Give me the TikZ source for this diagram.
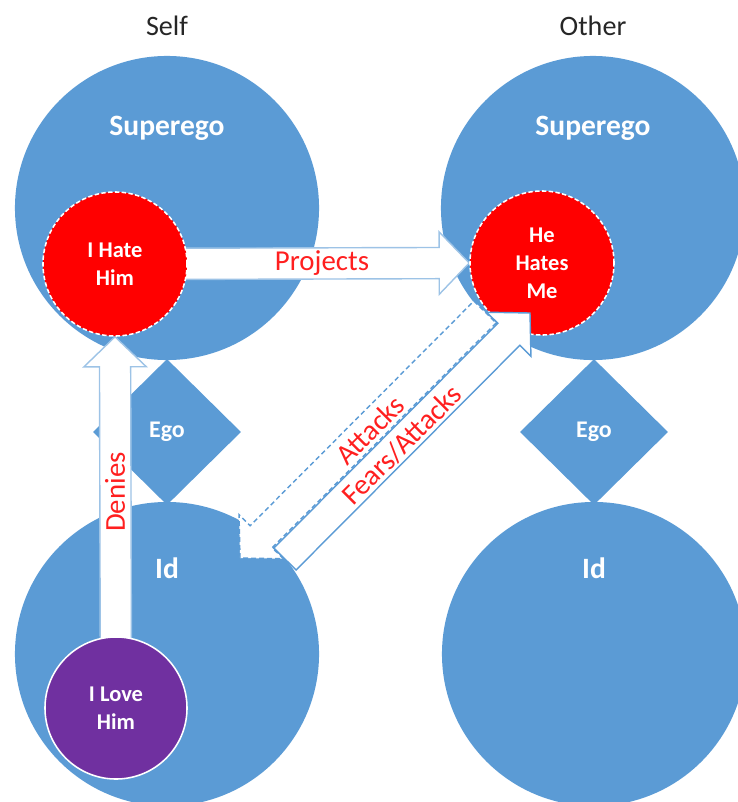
\documentclass[tikz,border=0pt]{standalone}
\usepackage{fontspec}
\setmainfont{Carlito}
\usetikzlibrary{calc,shapes.geometric}

\definecolor{egoblue}{HTML}{5B9BD5}
\definecolor{edgeblue}{HTML}{9DC3E6}
\definecolor{hatered}{HTML}{FF0000}
\definecolor{lovepurple}{HTML}{7030A0}
\definecolor{wordred}{HTML}{FF1F1F}
\definecolor{titlegray}{HTML}{262626}

\pgfdeclarelayer{bg}
\pgfsetlayers{bg,main}

% block arrow from tail (#2) to tip (#3)
\newcommand{\blockarrow}[3][]{%
  \coordinate (ba neck) at ($(#3)!0.75cm!(#2)$);
  \draw[#1] ($(#2)!0.39cm!90:(#3)$) -- ($(ba neck)!0.39cm!-90:(#2)$)
    -- ($(ba neck)!0.78cm!-90:(#2)$) -- (#3)
    -- ($(ba neck)!0.78cm!90:(#2)$) -- ($(ba neck)!0.39cm!90:(#2)$)
    -- ($(#2)!0.39cm!-90:(#3)$) -- cycle;}

\begin{document}
\begin{tikzpicture}[
x=0.025cm, y=-0.025cm,
lobe/.style={circle, fill=egoblue, minimum size=7.6cm, inner sep=0},
egobox/.style={diamond, fill=egoblue, minimum width=3.7cm, minimum height=3.65cm,
  inner sep=0, text=white, font=\bfseries\fontsize{17}{20}\selectfont},
lobetext/.style={anchor=base, text=white, font=\bfseries\fontsize{21}{25}\selectfont},
title/.style={anchor=base, text=titlegray, font=\fontsize{20}{24}\selectfont},
hatebubble/.style={circle, fill=hatered, draw=white, line width=1.1pt,
  dash pattern=on 0.11cm off 0.06cm, minimum size=3.6cm, inner sep=0,
  align=center, text=white, font=\bfseries\fontsize{16}{20}\selectfont},
lovebubble/.style={hatebubble, fill=lovepurple, solid, minimum size=3.55cm},
wordlabel/.style={text=wordred, font=\fontsize{20.5}{24}\selectfont},
plainarrow/.style={fill=white, draw=edgeblue, line width=1pt},
fearsarrow/.style={fill=white, draw=egoblue, line width=1pt},
attackarrow/.style={fearsarrow, dash pattern=on 0.12cm off 0.08cm}]
\useasboundingbox (0,0) rectangle (737,802);
\clip (0,0) rectangle (737,802);
% Inner feelings
\node[hatebubble] (hate) at (115,264) {I Hate\\Him};
\node[hatebubble] (he) at (542,263) {He\\Hates\\Me};
\node[lovebubble] (love) at (116,708) {I Love\\Him};
\begin{pgfonlayer}{bg}
% Self and Other
\node[lobe] (supL) at (167,208) {};
\node[lobe] (supR) at (593,208) {};
\node[lobe] (idL) at (167,654) {};
\node[lobe] (idR) at (594,654) {};
\node[egobox] (egoL) at (167,432) {Ego};
\node[egobox] (egoR) at (594,432) {Ego};
\node[lobetext] at (167,135) {Superego};
\node[lobetext] at (593,135) {Superego};
\node[lobetext] at (167,578) {Id};
\node[lobetext] at (594,578) {Id};
% Projects and Denies
\blockarrow[plainarrow]{hate.center}{he.west}
\blockarrow[plainarrow]{love.center}{hate.south}
\end{pgfonlayer}
\node[title] at (167,35) {Self};
\node[title] at (593,35) {Other};
% Attacks and Fears/Attacks
\coordinate (attack tail) at (485,312);
\coordinate (attack tip) at (240,558);
\coordinate (fear tail) at (285,559);
\coordinate (fear tip) at (530,313);
\blockarrow[attackarrow]{attack tail}{attack tip}
\blockarrow[fearsarrow]{fear tail}{fear tip}
% Labels
\node[wordlabel] at (322,263) {Projects};
\node[wordlabel, rotate=90] at (115,492) {Denies};
\node[wordlabel, rotate=45] at (370,430) {Attacks};
\node[wordlabel, rotate=45] at (402,445) {Fears/Attacks};
\end{tikzpicture}
\end{document}
